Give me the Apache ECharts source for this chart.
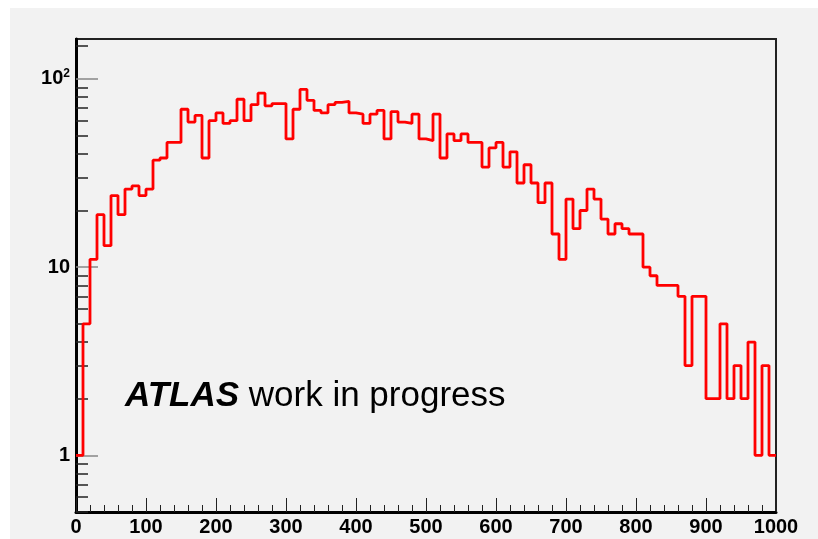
<!DOCTYPE html>
<html>
<head>
<meta charset="utf-8">
<script src="https://cdn.jsdelivr.net/npm/echarts@6/dist/echarts.min.js"></script>
<style>
html, body { margin: 0; padding: 0; background: #ffffff; }
#chart { position: absolute; left: 10px; top: 8px; width: 808px; height: 531px; background: #f2f2f2; }
</style>
</head>
<body>
<div id="chart"></div>
<script>
// histogram, 100 bins of width 10 from 0 to 1000
var binWidth = 10;
var counts = [
    1, 5, 11, 19, 13, 24, 19, 26, 27, 24,
    26, 37, 38, 46, 46, 69, 59, 64, 38, 60,
    66, 58, 60, 78, 60, 73, 84, 72, 74, 74,
    48, 69, 88, 77, 68, 66, 73, 75, 76, 66,
    65, 58, 65, 68, 48, 67, 59, 58, 65, 48,
    47, 65, 38, 51, 47, 51, 46, 46, 34, 43,
    46, 34, 41, 28, 35, 28, 22, 28, 15, 11,
    23, 16, 20, 26, 23, 18, 15, 17, 16, 15,
    15, 10, 9, 8, 8, 8, 7, 3, 7, 7,
    2, 2, 5, 2, 3, 2, 4, 1, 3, 1
];
var yMajorTicks = [1, 10, 100];
var yMinorTicks = [0.5, 0.6, 0.7, 0.8, 0.9, 2, 3, 4, 5, 6, 7, 8, 9, 20, 30, 40, 50, 60, 70, 80, 90, 150];
var xTickStep = 100;
var yMin = 0.5, yMax = 163;
var label = ['ATLAS', ' work in progress'];

// step points at the left edge of each bin, plus the closing edge
var steps = [];
for (var i = 0; i < counts.length; i++) {
    steps.push([i * binWidth, counts[i]]);
}
steps.push([counts.length * binWidth, counts[counts.length - 1]]);

var font = 'Liberation Sans';
var chart = echarts.init(document.getElementById('chart'));

var option = {
    backgroundColor: '#f2f2f2',
    animation: false,
    grid: {
        left: 66, top: 31, width: 700, height: 473,
        show: true, borderColor: '#222', borderWidth: 2, backgroundColor: '#f2f2f2'
    },
    xAxis: {
        type: 'value', min: 0, max: 1000, interval: xTickStep,
        axisLine: { lineStyle: { color: '#000', width: 3 } },
        axisTick: { inside: true, length: 14, lineStyle: { color: '#222', width: 1 } },
        minorTick: { show: true, splitNumber: 5, length: 7, lineStyle: { color: '#222', width: 1 } },
        splitLine: { show: false },
        axisLabel: {
            margin: 5, color: '#000', fontFamily: font, fontWeight: 'bold', fontSize: 20,
            formatter: function (v) { return String(v); }
        }
    },
    yAxis: [{
        type: 'log', logBase: 10, min: yMin, max: yMax,
        axisLine: { show: true, lineStyle: { color: '#000', width: 3 } },
        axisTick: { inside: true, length: 22, customValues: yMajorTicks, lineStyle: { color: '#888', width: 1.5 } },
        splitLine: { show: false },
        axisLabel: {
            customValues: yMajorTicks, margin: 6, color: '#000',
            formatter: function (v) {
                if (v >= 100) return '{b|10}{s|2}';
                return '{b|' + v + '}';
            },
            rich: {
                b: { fontFamily: font, fontWeight: 'bold', fontSize: 20, color: '#000', lineHeight: 22 },
                s: { fontFamily: font, fontWeight: 'bold', fontSize: 12, color: '#000', verticalAlign: 'top', lineHeight: 18 }
            }
        }
    }, {
        type: 'log', logBase: 10, min: yMin, max: yMax, position: 'left',
        axisLine: { show: false },
        axisTick: { inside: true, length: 12, customValues: yMinorTicks, lineStyle: { color: '#222', width: 1.5 } },
        splitLine: { show: false },
        axisLabel: { show: false }
    }],
    graphic: [{
        type: 'text', left: 115, top: 371, silent: true,
        style: {
            text: '{a|' + label[0] + '}{b|' + label[1] + '}',
            rich: {
                a: { fontFamily: font, fontSize: 35, fontWeight: 'bold', fontStyle: 'italic', fill: '#000' },
                b: { fontFamily: font, fontSize: 35, fill: '#000' }
            }
        }
    }],
    series: [{
        type: 'line', step: 'end', data: steps, yAxisIndex: 0,
        showSymbol: false, symbol: 'none',
        lineStyle: { color: '#ff0000', width: 2.8 },
        z: 3
    }]
};
chart.setOption(option);
</script>
</body>
</html>
